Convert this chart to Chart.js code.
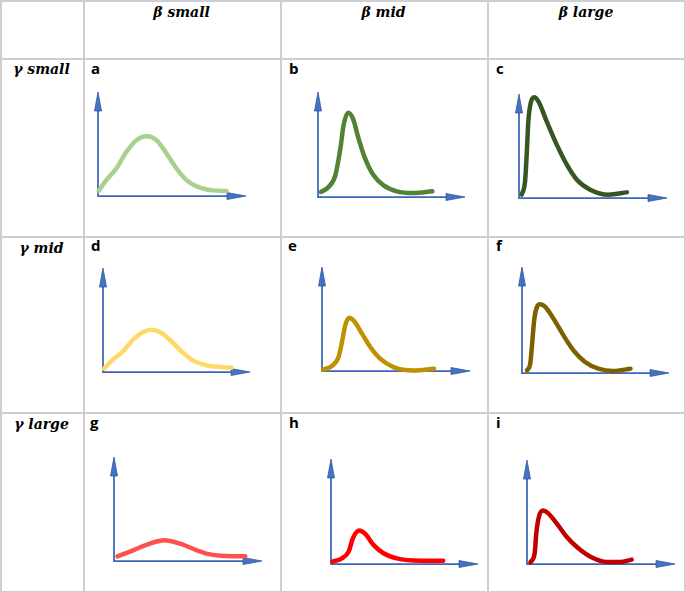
<!DOCTYPE html>
<html>
<head>
<meta charset="utf-8">
<script src="https://cdn.jsdelivr.net/npm/chart.js@4"></script>
<style>
  html, body { margin: 0; padding: 0; background: #fff; }
  #page { position: relative; width: 685px; height: 592px; overflow: hidden; }
  .hl, .vl { position: absolute; background: #cfcfcf; }
  .hl { left: 0; width: 685px; height: 1.5px; }
  .vl { top: 0; height: 592px; width: 1.5px; }
  .head, .rowlab { position: absolute; font-family: "DejaVu Serif", serif; font-weight: bold; font-style: italic; white-space: nowrap; line-height: 1; transform: translateX(-50%); color: #000; font-size: 14px; }
  .letter { position: absolute; font-family: "Open Sans", sans-serif; font-weight: bold; font-size: 15px; line-height: 1; color: #000; }
  canvas { position: absolute; }
</style>
</head>
<body>
<div id="page"></div>
<script>
// column / row headings and panel letters
const colTitles = ['β small', 'β mid', 'β large'];
const rowTitles = ['γ small', 'γ mid', 'γ large'];
const panelLetters = ['a', 'b', 'c', 'd', 'e', 'f', 'g', 'h', 'i'];

// curves (x and y both in 0..10 of each panel's axes)
const xA = [0.05, 0.56, 1.24, 1.92, 2.60, 3.27, 3.95, 4.63, 5.30, 5.98, 6.88, 7.79, 8.69];
const yA = [0.48, 1.53, 2.65, 4.25, 5.37, 5.75, 5.37, 4.09, 2.65, 1.53, 0.80, 0.54, 0.48];
const xB = [0.20, 0.72, 1.18, 1.52, 1.74, 2.04, 2.38, 2.76, 3.21, 3.78, 4.46, 5.36, 6.49, 7.78];
const yB = [0.48, 0.95, 2.06, 4.60, 6.83, 8.03, 7.46, 5.56, 3.65, 2.06, 1.11, 0.54, 0.38, 0.54];
const xC = [0.18, 0.41, 0.52, 0.63, 0.79, 1.02, 1.31, 1.87, 2.55, 3.23, 3.91, 4.81, 6.05, 7.29];
const yC = [0.32, 1.60, 4.17, 7.37, 9.13, 9.68, 9.29, 7.37, 5.13, 3.21, 1.76, 0.80, 0.32, 0.54];
const xD = [0.07, 0.68, 1.36, 2.05, 2.73, 3.30, 3.98, 4.66, 5.34, 6.14, 7.05, 7.95, 8.75];
const yD = [0.32, 1.19, 1.99, 3.11, 3.85, 4.07, 3.75, 2.95, 1.99, 1.09, 0.64, 0.48, 0.42];
const xE = [0.07, 0.67, 1.12, 1.35, 1.57, 1.84, 2.18, 2.70, 3.26, 3.93, 4.83, 6.18, 7.57];
const yE = [0.13, 0.48, 1.35, 2.79, 4.39, 5.13, 4.78, 3.59, 2.31, 1.19, 0.38, 0.06, 0.22];
const xF = [0.34, 0.56, 0.68, 0.84, 1.02, 1.24, 1.58, 2.14, 2.82, 3.50, 4.29, 5.19, 6.21, 7.38];
const yF = [0.25, 0.88, 2.61, 5.13, 6.23, 6.48, 6.23, 5.13, 3.55, 2.14, 1.04, 0.41, 0.19, 0.41];
const xG = [0.23, 1.29, 2.42, 3.39, 4.46, 5.59, 6.49, 7.62, 8.87];
const yG = [0.45, 1.03, 1.67, 1.99, 1.67, 1.03, 0.64, 0.48, 0.45];
const xH = [0.11, 0.74, 1.20, 1.49, 1.92, 2.33, 2.89, 3.57, 4.47, 6.05, 7.63];
const yH = [0.22, 0.54, 1.18, 2.45, 3.18, 2.87, 1.82, 1.02, 0.54, 0.32, 0.32];
const xI = [0.23, 0.52, 0.63, 0.81, 1.08, 1.42, 1.99, 2.66, 3.45, 4.36, 5.37, 6.28, 7.07];
const yI = [0.16, 1.05, 2.97, 4.57, 5.14, 4.89, 3.93, 2.65, 1.53, 0.64, 0.19, 0.19, 0.42];

const curveX = [xA, xB, xC, xD, xE, xF, xG, xH, xI];
const curveY = [yA, yB, yC, yD, yE, yF, yG, yH, yI];
const curveColors = ['#a9d18e', '#548235', '#375623', '#ffd966', '#bf9000', '#7f6000', '#ff5050', '#ff0000', '#c00000'];

// page layout
const colLines = [0, 83, 280, 487, 683.5];
const rowLines = [0, 58, 236, 412, 590.5];
const colCenters = [181.5, 383.5, 586];
const headTop = 5;
const rowLabTops = [62, 241, 417];
const letterPos = [[91, 61], [289, 61], [496, 61], [91, 238], [288, 238], [496, 238], [90, 415], [289, 415], [496, 415]];
// axis origin (ox, oy) and arrow tips (xt, yt) of each panel
const axesBox = [
  [98, 196, 246, 92], [318, 197, 465, 92], [519, 198, 667, 94],
  [103, 372, 250, 268], [322, 371, 470, 267], [522, 373, 669, 267],
  [114, 561, 262, 457], [331, 564, 478, 459], [527, 564, 675, 460]
];
const AXIS_BLUE = '#4472c4';
const AXIS_EDGE = '#2f5597';
const PAD = { left: 12, top: 6, right: 6, bottom: 12 };

const page = document.getElementById('page');
colLines.forEach(x => {
  const d = document.createElement('div'); d.className = 'vl'; d.style.left = x + 'px'; page.appendChild(d);
});
rowLines.forEach(y => {
  const d = document.createElement('div'); d.className = 'hl'; d.style.top = y + 'px'; page.appendChild(d);
});
colTitles.forEach((t, i) => {
  const d = document.createElement('div'); d.className = 'head'; d.textContent = t;
  d.style.left = colCenters[i] + 'px'; d.style.top = headTop + 'px'; page.appendChild(d);
});
rowTitles.forEach((t, i) => {
  const d = document.createElement('div'); d.className = 'rowlab'; d.textContent = t;
  d.style.left = '41.5px'; d.style.top = rowLabTops[i] + 'px'; page.appendChild(d);
});
panelLetters.forEach((t, i) => {
  const d = document.createElement('div'); d.className = 'letter'; d.textContent = t;
  d.style.left = letterPos[i][0] + 'px'; d.style.top = letterPos[i][1] + 'px'; page.appendChild(d);
});

// draws the two blue arrows along the chart area edges
const arrowAxes = {
  id: 'arrowAxes',
  beforeDatasetsDraw(chart) {
    const ctx = chart.ctx;
    const x0 = chart.scales.x.getPixelForValue(0), x1 = chart.scales.x.getPixelForValue(10);
    const y0 = chart.scales.y.getPixelForValue(0), y1 = chart.scales.y.getPixelForValue(10);
    const len = 19, half = 3.5;
    ctx.save();
    ctx.strokeStyle = '#3d67b8';
    ctx.fillStyle = AXIS_BLUE;
    ctx.lineWidth = 1.75;
    ctx.beginPath();
    ctx.moveTo(x0, y0); ctx.lineTo(x0, y1 + len - 2);
    ctx.moveTo(x0 - 0.85, y0); ctx.lineTo(x1 - len + 2, y0);
    ctx.stroke();
    ctx.strokeStyle = AXIS_EDGE;
    ctx.lineWidth = 0.75;
    ctx.beginPath();
    ctx.moveTo(x0, y1); ctx.lineTo(x0 - half, y1 + len); ctx.lineTo(x0 + half, y1 + len); ctx.closePath();
    ctx.fill(); ctx.stroke();
    ctx.beginPath();
    ctx.moveTo(x1, y0); ctx.lineTo(x1 - len, y0 - half); ctx.lineTo(x1 - len, y0 + half); ctx.closePath();
    ctx.fill(); ctx.stroke();
    ctx.restore();
  }
};

axesBox.forEach(([ox, oy, xt, yt], i) => {
  const cv = document.createElement('canvas');
  const w = (xt - ox) + PAD.left + PAD.right;
  const h = (oy - yt) + PAD.top + PAD.bottom;
  cv.width = w; cv.height = h;
  cv.style.width = w + 'px'; cv.style.height = h + 'px';
  cv.style.left = (ox - PAD.left) + 'px';
  cv.style.top = (yt - PAD.top) + 'px';
  page.appendChild(cv);

  new Chart(cv, {
    type: 'line',
    data: {
      datasets: [{
        data: curveX[i].map((x, k) => ({ x: x, y: curveY[i][k] })),
        borderColor: curveColors[i],
        borderWidth: 4.5,
        borderCapStyle: 'round',
        cubicInterpolationMode: 'monotone',
        pointRadius: 0,
        fill: false,
        clip: false
      }]
    },
    options: {
      responsive: false,
      animation: false,
      devicePixelRatio: 1,
      layout: { padding: PAD },
      scales: {
        x: { type: 'linear', min: 0, max: 10, display: false },
        y: { type: 'linear', min: 0, max: 10, display: false }
      },
      plugins: { legend: { display: false }, tooltip: { enabled: false } }
    },
    plugins: [arrowAxes]
  });
});
</script>
</body>
</html>
